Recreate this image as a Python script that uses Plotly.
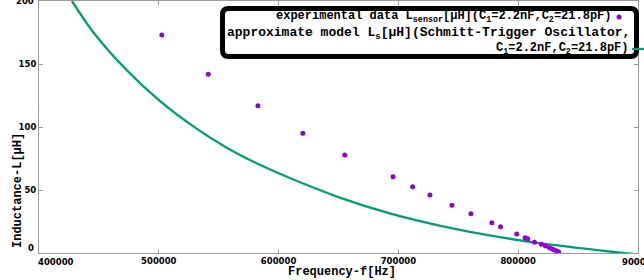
import plotly.graph_objects as go

# ---- data ----
exp_f = [502500, 541300, 582750, 620250, 655250, 695500, 711900, 726300, 744700,
         760500, 778000, 785250, 798800, 805800, 808000, 813600, 819400, 822800,
         826100, 828300, 830250, 832200, 833800]
exp_L = [173.0, 141.8, 116.9, 95.0, 77.8, 60.6, 52.6, 46.0, 37.9,
         31.2, 24.0, 20.9, 15.1, 12.1, 11.3, 8.5, 6.9, 5.6,
         4.2, 3.2, 2.4, 1.6, 0.8]

model_f = [427500, 445500, 473300, 501100, 528800, 556000, 584400, 609400, 651100,
           692750, 734400, 776100, 817750, 859400, 887200, 900000]
model_L = [200.0, 175.0, 145.0, 120.5, 100.5, 84.0, 70.0, 59.5, 44.0,
           31.5, 21.8, 14.0, 7.8, 3.0, 0.0, -1.2]

x_ticks = [400000, 500000, 600000, 700000, 800000, 900000]
x_ticklabels = ["400000", "500000", "600000", "700000", "800000", "900000"]
y_ticks = [0, 50, 100, 150, 200]
y_ticklabels = ["0", "50", "100", "150", "200"]

legend_exp = "experimental data L<sub>sensor</sub>[μH](C<sub>1</sub>=2.2nF,C<sub>2</sub>=21.8pF)"
legend_model_1 = "approximate model L<sub>s</sub>[μH](Schmitt-Trigger Oscillator,"
legend_model_2 = "C<sub>1</sub>=2.2nF,C<sub>2</sub>=21.8pF)"
x_title = "Frequency-f[Hz]"
y_title = "Inductance-L[μH]"

PURPLE = "#9400D3"
GREEN = "#009E73"
W, H = 644, 280
ML, MR, MT, MB = 39, 6, 1, 27
PW, PH = W - ML - MR, H - MT - MB


def xp(px):
    return (px - ML) / PW


def yp(py):
    return (H - MB - py) / PH


mono = "Liberation Mono, Courier New, monospace"
sans = "DejaVu Sans, sans-serif"
tickfont = dict(family=sans, size=8.5, color="black", weight="bold")

fig = go.Figure()
fig.add_trace(go.Scatter(x=model_f, y=model_L, mode="lines", line=dict(color=GREEN, width=2.3),
                         line_shape="spline", line_smoothing=0.8,
                         showlegend=False, hoverinfo="skip"))
fig.add_trace(go.Scatter(x=exp_f, y=exp_L, mode="markers",
                         marker=dict(color=PURPLE, size=5, line=dict(width=0)),
                         showlegend=False))

axis_common = dict(showline=True, mirror="ticks", linecolor="#9a9a9a", linewidth=1,
                   ticks="inside", ticklen=4, tickcolor="#9a9a9a", showgrid=False,
                   zeroline=False, tickfont=tickfont)

# edge labels are placed as annotations (shifted / partly cut like the reference)
fig.update_xaxes(range=[400000, 900000], tickvals=x_ticks,
                 ticktext=[""] + x_ticklabels[1:-1] + [""], **axis_common)
fig.update_yaxes(range=[0, 200], tickvals=y_ticks,
                 ticktext=[""] + y_ticklabels[1:-1] + [""], **axis_common)

ann = []
ann.append(dict(x=xp(56), y=yp(262), xref="paper", yref="paper", text=x_ticklabels[0],
                showarrow=False, xanchor="center", yanchor="middle", font=tickfont))
ann.append(dict(x=xp(640), y=yp(262), xref="paper", yref="paper", text=x_ticklabels[-1],
                showarrow=False, xanchor="center", yanchor="middle", font=tickfont))
ann.append(dict(x=xp(36), y=yp(248), xref="paper", yref="paper", text=y_ticklabels[0],
                showarrow=False, xanchor="right", yanchor="middle", font=tickfont))
ann.append(dict(x=xp(36), y=yp(1), xref="paper", yref="paper", text=y_ticklabels[-1],
                showarrow=False, xanchor="right", yanchor="middle", font=tickfont))
# axis titles
ann.append(dict(x=xp(342), y=yp(272), xref="paper", yref="paper", text=x_title,
                showarrow=False, xanchor="center", yanchor="middle",
                font=dict(family=mono, size=12, color="black", weight="bold")))
ann.append(dict(x=xp(18), y=yp(191), xref="paper", yref="paper", text=y_title,
                showarrow=False, xanchor="center", yanchor="middle", textangle=-90,
                font=dict(family=mono, size=12, color="black", weight="bold")))
# legend texts
lf = dict(family=mono, size=12, color="black", weight="bold")
lf2 = dict(family=mono, size=13, color="black", weight="bold")
ann.append(dict(x=xp(613), y=yp(17), xref="paper", yref="paper", text=legend_exp,
                showarrow=False, xanchor="right", yanchor="middle", font=lf))
ann.append(dict(x=xp(632), y=yp(33), xref="paper", yref="paper", text=legend_model_1,
                showarrow=False, xanchor="right", yanchor="middle", font=lf2))
ann.append(dict(x=xp(630), y=yp(49), xref="paper", yref="paper", text=legend_model_2,
                showarrow=False, xanchor="right", yanchor="middle", font=lf))

# legend frame: rounded rectangle
x0, y0, x1, y1, r = 222.5, 8.5, 636.5, 56.5, 6


def P(px, py):
    return f"{xp(px):.5f},{yp(py):.5f}"


path = (f"M {P(x0 + r, y0)} L {P(x1 - r, y0)} Q {P(x1, y0)} {P(x1, y0 + r)} "
        f"L {P(x1, y1 - r)} Q {P(x1, y1)} {P(x1 - r, y1)} "
        f"L {P(x0 + r, y1)} Q {P(x0, y1)} {P(x0, y1 - r)} "
        f"L {P(x0, y0 + r)} Q {P(x0, y0)} {P(x0 + r, y0)} Z")
shapes = [
    dict(type="path", path=path, xref="paper", yref="paper", fillcolor="white",
         line=dict(color="black", width=5), layer="above"),
    dict(type="circle", xref="paper", yref="paper", x0=xp(616.5), x1=xp(621.5),
         y0=yp(19.5), y1=yp(14.5), fillcolor=PURPLE, line=dict(width=0), layer="above"),
    dict(type="line", xref="paper", yref="paper", x0=xp(632), x1=xp(646),
         y0=yp(49), y1=yp(49), line=dict(color=GREEN, width=2.3), layer="above"),
]

fig.update_layout(width=W, height=H, margin=dict(l=ML, r=MR, t=MT, b=MB, autoexpand=False),
                  paper_bgcolor="white", plot_bgcolor="white",
                  annotations=ann, shapes=shapes, showlegend=False)

fig.write_html("out.html", config={"displayModeBar": False},
               post_script="document.body.style.margin='0';document.body.style.padding='0';")
